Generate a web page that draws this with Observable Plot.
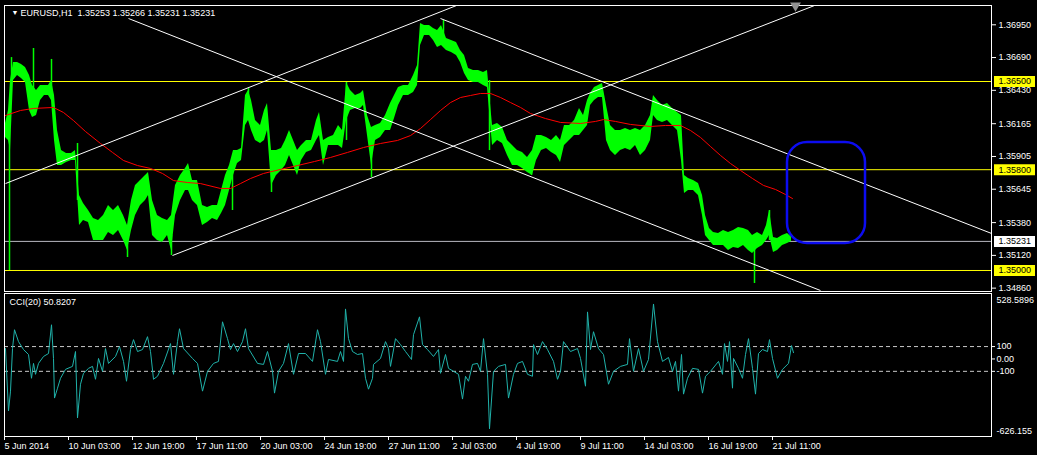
<!DOCTYPE html>
<html>
<head>
<meta charset="utf-8">
<script src="https://cdn.jsdelivr.net/npm/d3@7"></script>
<script src="https://cdn.jsdelivr.net/npm/@observablehq/plot@0.6"></script>
<style>
  html, body { margin: 0; padding: 0; background: #000; }
  #wrap { position: relative; width: 1037px; height: 455px; background: #000; overflow: hidden; }
  #wrap svg { position: absolute; left: 0; top: 0; }
</style>
</head>
<body>
<div id="wrap"></div>
<script>
// ---------- DATA ----------
const chartTitle = "EURUSD,H1\u00a0\u00a01.35253 1.35266 1.35231 1.35231";
const cciTitle = "CCI(20) 50.8207";

// H1 price bars sampled (bar index, high, low)
const barIndex = [
  1,4,6,9,13,17,21,25,28,32,
  36,40,44,47,50,53,57,62,67,71,
  75,79,84,89,94,99,104,109,114,119,
  123,127,131,136,141,144,148,153,158,163,
  167,171,176,181,184,188,193,198,203,208,
  213,217,221,225,229,233,237,241,244,247,
  251,256,260,263,267,272,277,281,285,289,
  293,297,302,307,312,315,319,324,329,334,
  338,342,346,351,356,359,363,367,371,376,
  381,386,390,394,399,404,409,413,416,420,
  425,429,433,437,442,447,452,456,460,464,
  469,474,479,483,488,493,498,503,508,513,
  518,523,528,532,537,542,547,552,556,560,
  565,570,575,579,583,586,590,594,598,602,
  606,611,616,621,626,631,636,641,646,649,
  653,658,663,668,673,677,680,684,689,694,
  698,701,705,709,714,719,724,729,734,739,
  744,748,753,758,762,765,769,773,778,783,
  787];
const barHigh = [
  1.36167,1.36270,1.36508,1.36651,1.36651,1.36635,1.36611,1.36548,1.36468,1.36429,
  1.36468,1.36468,1.36468,1.36508,1.36389,1.36111,1.35952,1.35929,1.35929,1.35952,
  1.35595,1.35532,1.35476,1.35413,1.35397,1.35437,1.35516,1.35476,1.35516,1.35437,
  1.35357,1.35556,1.35675,1.35714,1.35754,1.35778,1.35556,1.35437,1.35413,1.35397,
  1.35437,1.35675,1.35754,1.35810,1.35849,1.35714,1.35714,1.35516,1.35500,1.35516,
  1.35516,1.35635,1.35754,1.35833,1.35952,1.35952,1.35968,1.36389,1.36429,1.36349,
  1.36190,1.36151,1.36270,1.36325,1.35952,1.35952,1.35968,1.36032,1.36111,1.36032,
  1.35952,1.35992,1.36032,1.36032,1.36190,1.36254,1.36032,1.36056,1.36071,1.36151,
  1.36111,1.36492,1.36429,1.36389,1.36405,1.36429,1.36230,1.36135,1.36151,1.36167,
  1.36230,1.36325,1.36389,1.36452,1.36468,1.36468,1.36548,1.36627,1.36960,1.36944,
  1.36944,1.36921,1.36905,1.36944,1.36841,1.36825,1.36810,1.36746,1.36706,1.36603,
  1.36587,1.36587,1.36571,1.36587,1.36151,1.36167,1.36135,1.36032,1.35992,1.35952,
  1.35937,1.35897,1.35952,1.36071,1.36071,1.36056,1.36032,1.36071,1.36032,1.36151,
  1.36151,1.36190,1.36286,1.36230,1.36349,1.36405,1.36452,1.36468,1.36484,1.36310,
  1.36151,1.36111,1.36111,1.36127,1.36111,1.36127,1.36111,1.36151,1.36230,1.36389,
  1.36349,1.36310,1.36325,1.36286,1.36254,1.36230,1.35754,1.35730,1.35714,1.35690,
  1.35595,1.35437,1.35333,1.35302,1.35294,1.35317,1.35302,1.35317,1.35341,1.35333,
  1.35317,1.35278,1.35302,1.35278,1.35357,1.35476,1.35262,1.35254,1.35278,1.35294,
  1.35266];
const barLow = [
  1.36056,1.36032,1.35952,1.36508,1.36548,1.36524,1.36492,1.36270,1.36214,1.36230,
  1.36349,1.36389,1.36389,1.36349,1.36032,1.35833,1.35833,1.35857,1.35873,1.35873,
  1.35357,1.35397,1.35381,1.35238,1.35238,1.35238,1.35302,1.35278,1.35317,1.35238,
  1.35159,1.35317,1.35437,1.35516,1.35556,1.35595,1.35278,1.35238,1.35222,1.35278,
  1.35159,1.35437,1.35556,1.35635,1.35635,1.35556,1.35516,1.35357,1.35381,1.35413,
  1.35397,1.35452,1.35516,1.35635,1.35754,1.35849,1.35873,1.36151,1.36190,1.36111,
  1.36032,1.36008,1.36032,1.36111,1.35675,1.35754,1.35794,1.35833,1.35913,1.35833,
  1.35754,1.35873,1.35937,1.35952,1.36032,1.36071,1.35833,1.35992,1.35992,1.35992,
  1.35968,1.36190,1.36270,1.36286,1.36286,1.36310,1.36071,1.35833,1.36032,1.36056,
  1.36111,1.36111,1.36206,1.36310,1.36389,1.36389,1.36413,1.36468,1.36786,1.36865,
  1.36865,1.36825,1.36770,1.36786,1.36746,1.36730,1.36706,1.36651,1.36563,1.36508,
  1.36492,1.36492,1.36468,1.36452,1.35992,1.36032,1.36008,1.35913,1.35833,1.35833,
  1.35810,1.35778,1.35754,1.35873,1.35952,1.35968,1.35937,1.35913,1.35857,1.35992,
  1.36032,1.36071,1.36071,1.36111,1.36151,1.36310,1.36349,1.36373,1.36373,1.36032,
  1.35952,1.35913,1.35952,1.35968,1.35952,1.35992,1.35913,1.35952,1.36032,1.36230,
  1.36190,1.36175,1.36190,1.36151,1.36111,1.35873,1.35611,1.35635,1.35635,1.35595,
  1.35437,1.35278,1.35238,1.35198,1.35198,1.35198,1.35159,1.35183,1.35175,1.35198,
  1.35159,1.35135,1.35175,1.35198,1.35238,1.35278,1.35143,1.35159,1.35198,1.35214,
  1.35231];

// long wicks (bar index, high, low)
const wickIndex = [5,7,29,47,73,123,167,228,244,267,342,367,439,485,527,750,765];
const wickHigh  = [1.36111,1.36690,1.36762,1.36675,1.36008,1.35357,1.35278,1.35873,1.36444,1.35873,1.36492,1.36071,1.36984,1.36508,1.35873,1.35238,1.35476];
const wickLow   = [1.35000,1.36508,1.36429,1.36389,1.35556,1.35103,1.35119,1.35476,1.36349,1.35619,1.36032,1.35738,1.36825,1.35952,1.35754,1.34897,1.35238];

// moving average (red)
const maIndex = [1,16,29,49,59,69,81,96,108,119,
  133,146,158,169,183,196,216,226,236,246,
  259,276,293,310,326,343,359,376,393,406,
  416,426,436,446,456,466,476,486,496,506,
  516,526,541,556,576,591,599,611,626,646,
  661,676,686,696,706,716,726,736,748,759,
  771,781,788];
const maValue = [1.36230,1.36270,1.36286,1.36294,1.36254,1.36190,1.36103,1.36008,1.35937,1.35873,
  1.35833,1.35810,1.35770,1.35714,1.35698,1.35690,1.35651,1.35651,1.35690,1.35730,
  1.35770,1.35802,1.35833,1.35865,1.35897,1.35937,1.35976,1.36008,1.36032,1.36071,
  1.36127,1.36198,1.36270,1.36333,1.36373,1.36389,1.36405,1.36405,1.36373,1.36333,
  1.36294,1.36246,1.36206,1.36175,1.36167,1.36183,1.36198,1.36183,1.36159,1.36143,
  1.36151,1.36151,1.36111,1.36056,1.35984,1.35913,1.35849,1.35794,1.35730,1.35675,
  1.35643,1.35603,1.35571];

// CCI(20)
const cciIndex = [
  1,4,6,8,10,14,19,24,27,29,
  31,34,39,44,47,49,50,53,56,61,
  68,71,73,76,79,84,88,91,94,98,
  101,104,111,115,119,122,126,129,133,138,
  143,146,149,153,159,166,169,173,175,179,
  188,193,198,203,209,214,218,223,226,229,
  233,238,241,244,253,259,263,268,270,274,
  279,284,289,294,301,308,313,316,321,324,
  333,336,339,341,344,348,353,358,361,364,
  368,369,376,381,384,386,391,396,401,407,
  409,415,418,423,429,434,436,441,444,449,
  454,458,461,464,468,473,476,479,483,485,
  489,494,501,504,509,513,518,523,528,529,
  533,538,543,549,553,556,559,566,573,576,
  581,583,586,589,594,599,604,609,616,623,
  625,629,634,639,644,649,653,658,664,668,
  671,674,677,679,683,688,694,698,701,706,
  714,718,720,723,725,728,729,734,738,741,
  744,748,751,754,758,763,765,768,773,778,
  784,787,789];
const cciValue = [
  84,-420,-260,84,236,140,76,36,-156,-36,
  -124,-36,20,44,276,4,-316,-236,-156,-84,
  -60,60,-476,-204,-116,-76,-60,-164,4,-100,
  84,-36,20,100,-20,-180,76,156,60,76,
  180,60,-164,-140,-36,124,-124,140,244,84,
  4,-36,-260,-100,-36,-20,300,164,76,124,
  60,140,244,84,-36,-44,60,-100,-276,-100,
  -36,124,-124,44,44,-20,236,140,-124,-4,
  -20,60,-20,404,164,60,36,44,-156,-244,
  -156,-44,4,140,84,-60,164,116,60,-4,
  196,340,116,76,20,76,-116,36,-76,-100,
  -124,-324,-140,-180,-44,-36,-100,164,-124,-564,
  -100,-60,-44,-316,-124,-36,-20,-124,-140,116,
  36,140,76,-20,-164,-100,140,60,84,4,
  -220,380,76,220,84,36,-204,-100,-60,-44,
  164,-100,84,-100,-4,444,140,-20,12,-100,
  -20,-260,36,-284,-156,-76,-84,-276,-140,-100,
  -20,-124,124,-20,140,-236,4,-76,-156,36,
  164,-76,-284,44,76,60,156,4,-156,-84,
  -36,108,50.8207];

// trendlines (start/end bar index and price)
const trendStartIndex = [124, 168, 436, 1];
const trendStartPrice = [1.37000, 1.35119, 1.37000, 1.35690];
const trendEndIndex   = [816, 810, 987, 452];
const trendEndPrice   = [1.34841, 1.37103, 1.35294, 1.37103];

// blue rounded rectangle (bar index range, price range)
const boxIndex = [783, 861];
const boxPrice = [1.36016, 1.35214];

// horizontal levels
const levelPrices = [1.36500, 1.35800, 1.35000];
const bidPrice = 1.35231;
const priceTicks = [1.36950, 1.36690, 1.36430, 1.36165, 1.35905, 1.35645, 1.35380, 1.35120, 1.34860];
const priceDomain = [1.348333, 1.371032];
const shiftMarkerIndex = [791];

// CCI scale
const cciDomain = [-626.155, 528.5896];
const cciLevels = [100, -100];
const cciTicks = [100, 0, -100];
const cciTickLabels = ["100", "0.00", "-100"];

// time axis (H1 bars, weekends skipped)
const dateTickIndex = [0, 64, 128, 192, 256, 320, 384, 448, 512, 576, 640, 704, 768];
const dateTickLabels = ["5 Jun 2014", "10 Jun 03:00", "12 Jun 19:00", "17 Jun 11:00", "20 Jun 03:00",
  "24 Jun 19:00", "27 Jun 11:00", "2 Jul 03:00", "4 Jul 19:00", "9 Jul 11:00", "14 Jul 03:00",
  "16 Jul 19:00", "21 Jul 11:00"];

// ---------- BUILD ----------
const bars = barIndex.map((i, k) => ({i, hi: barHigh[k], lo: barLow[k]}));
const wicks = wickIndex.map((i, k) => ({i, hi: wickHigh[k], lo: wickLow[k]}));
const ma = maIndex.map((i, k) => ({i, v: maValue[k]}));
const cci = cciIndex.map((i, k) => ({i, v: cciValue[k]}));
const trends = trendStartIndex.map((s, k) => ({x1: s, y1: trendStartPrice[k], x2: trendEndIndex[k], y2: trendEndPrice[k]}));
const box = [{x1: boxIndex[0], x2: boxIndex[1], y1: boxPrice[0], y2: boxPrice[1]}];

const W = 1037, H = 455;
const FONT = '"Liberation Sans", Arial, sans-serif';
const xDomain = [0, 987];
const labelBoxX1 = 990, labelBoxX2 = 1031, labelTextX = 994;
const baseStyle = {background: "transparent", color: "white", fontFamily: FONT, fontSize: "9px"};

const mainChart = Plot.plot({
  width: W, height: H,
  marginLeft: 4, marginRight: 46, marginTop: 5, marginBottom: 164,
  style: baseStyle,
  x: {domain: xDomain, axis: null},
  y: {domain: priceDomain},
  marks: [
    Plot.ruleY(levelPrices, {stroke: "#ffff00", strokeWidth: 1}),
    Plot.ruleY([bidPrice], {stroke: "#b8b8c0", strokeWidth: 1}),
    Plot.areaY(bars, {x: "i", y1: "lo", y2: "hi", fill: "#00ff00", curve: "linear"}),
    Plot.ruleX(wicks, {x: "i", y1: "lo", y2: "hi", stroke: "#00ff00", strokeWidth: 1.5}),
    Plot.line(ma, {x: "i", y: "v", stroke: "#ff0000", strokeWidth: 1}),
    Plot.link(trends, {x1: "x1", y1: "y1", x2: "x2", y2: "y2", stroke: "white", strokeWidth: 1}),
    Plot.rect(box, {x1: "x1", x2: "x2", y1: "y1", y2: "y2", fill: "none", stroke: "#0c0cf0", strokeWidth: 2.5, rx: 20}),
    Plot.frame({stroke: "white"}),
    Plot.dot(shiftMarkerIndex, {x: d => d, y: priceDomain[1], symbol: "triangle", rotate: 180, r: 4, fill: "#909090"}),
    Plot.ruleY(levelPrices, {x1: labelBoxX1, x2: labelBoxX2, stroke: "#ffff00", strokeWidth: 11}),
    Plot.ruleY([bidPrice], {x1: labelBoxX1, x2: labelBoxX2, stroke: "white", strokeWidth: 11}),
    Plot.text([...levelPrices, bidPrice], {x: labelTextX, y: d => d, text: d => d.toFixed(5), fill: "black", textAnchor: "start"}),
    Plot.axisY({anchor: "right", ticks: priceTicks, tickFormat: d => d.toFixed(5), tickSize: 4, tickPadding: 3, label: null}),
    Plot.text(["\u25BC"], {frameAnchor: "top-left", dx: 7, dy: 5, lineAnchor: "top", textAnchor: "start", fill: "white", fontSize: 7}),
    Plot.text([chartTitle], {frameAnchor: "top-left", dx: 16, dy: 4, lineAnchor: "top", textAnchor: "start", fill: "white"})
  ]
});

const cciChart = Plot.plot({
  width: W, height: H,
  marginLeft: 4, marginRight: 46, marginTop: 293, marginBottom: 19,
  style: baseStyle,
  x: {domain: xDomain},
  y: {domain: cciDomain},
  marks: [
    Plot.ruleY(cciLevels, {stroke: "#c8c8c8", strokeDasharray: "4,3"}),
    Plot.line(cci, {x: "i", y: "v", stroke: "#20b2aa", strokeWidth: 1}),
    Plot.frame({stroke: "white"}),
    Plot.axisY({anchor: "right", ticks: cciTicks, tickFormat: d => cciTickLabels[cciTicks.indexOf(d)], tickSize: 3, tickPadding: 2, label: null}),
    Plot.text([cciDomain[1]], {y: d => d, frameAnchor: "right", dx: 5, dy: 3, lineAnchor: "top", textAnchor: "start", text: d => d.toFixed(4), fill: "white"}),
    Plot.text([cciDomain[0]], {y: d => d, frameAnchor: "right", dx: 5, dy: -3, lineAnchor: "bottom", textAnchor: "start", text: d => d.toFixed(3), fill: "white"}),
    Plot.axisX({ticks: dateTickIndex, tickFormat: d => dateTickLabels[dateTickIndex.indexOf(d)], tickSize: 4, tickPadding: 2, textAnchor: "start", label: null}),
    Plot.text([cciTitle], {frameAnchor: "top-left", dx: 5, dy: 5, lineAnchor: "top", textAnchor: "start", fill: "white"})
  ]
});

const wrap = document.getElementById("wrap");
wrap.appendChild(mainChart);
wrap.appendChild(cciChart);
</script>
</body>
</html>
